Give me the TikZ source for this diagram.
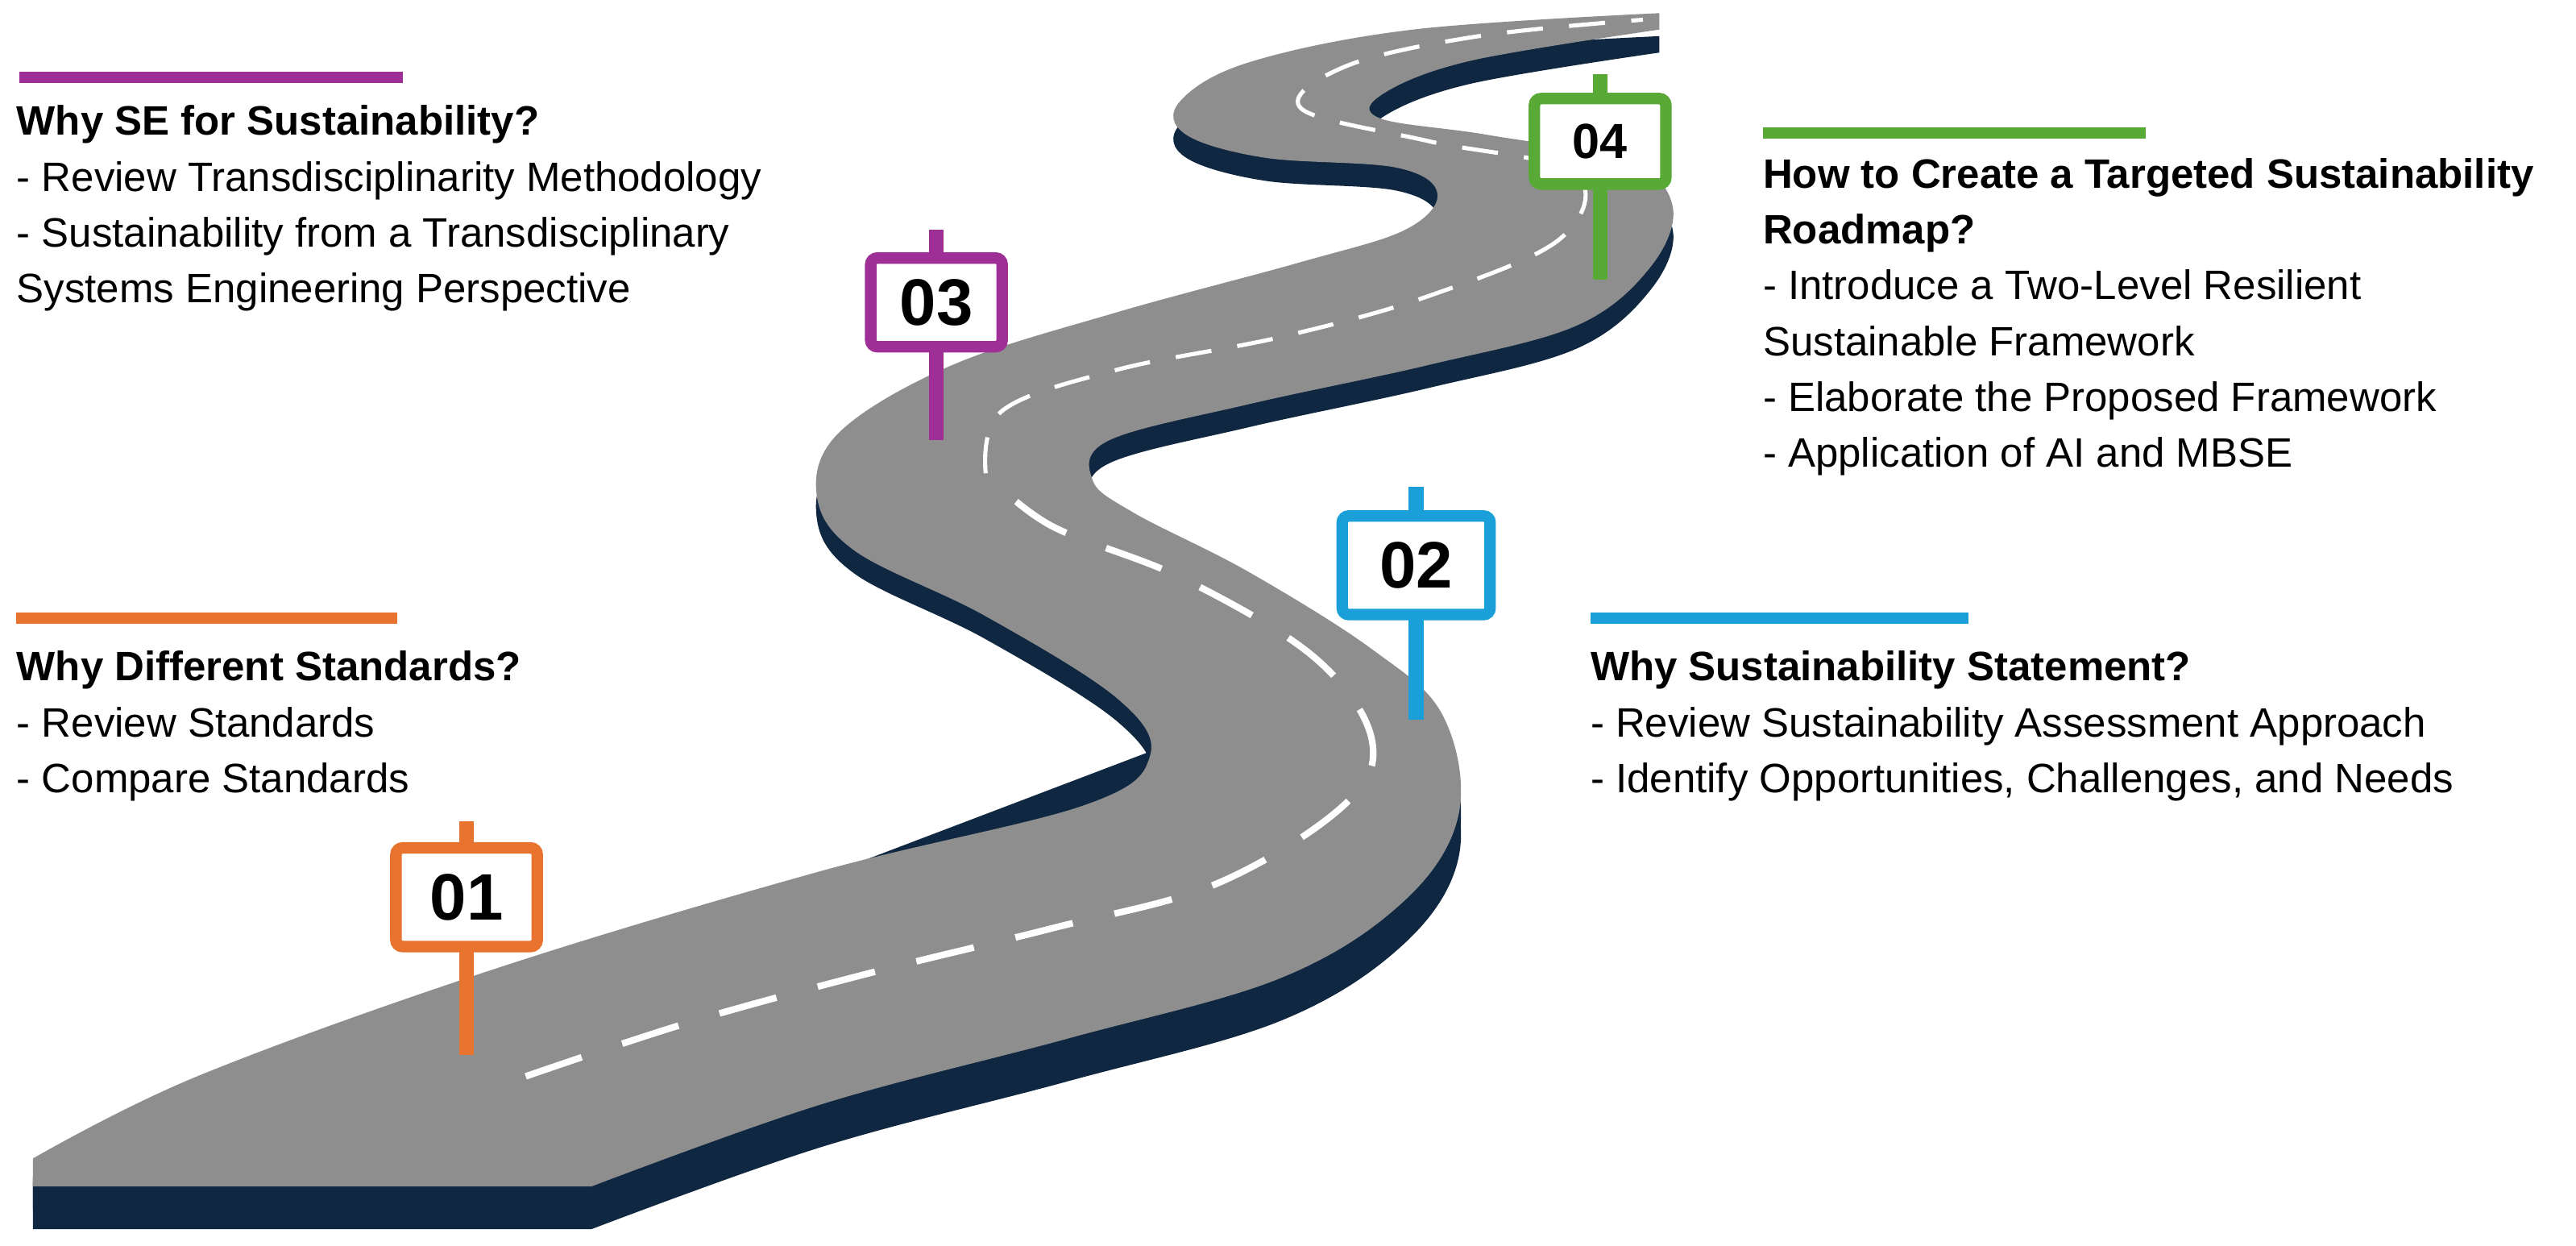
\documentclass[tikz,border=0pt]{standalone}
\usepackage{fontspec}
\setmainfont{Liberation Sans}
\begin{document}
\begin{tikzpicture}[x=1pt,y=-1pt,
  txt/.style={anchor=north west,align=left,inner sep=0pt,font=\fontsize{25}{34}\selectfont},
  bar/.style={line width=7pt},
  board/.style={draw=#1,line width=7pt,fill=white,rounded corners=4pt,minimum width=86pt,minimum height=60pt,font=\fontsize{40}{40}\selectfont\bfseries,inner sep=0pt},
  post/.style={line width=9pt,#1}]
\definecolor{cor}{HTML}{E8732E}
\definecolor{cbl}{HTML}{1A9FD8}
\definecolor{cpu}{HTML}{9E2F96}
\definecolor{cgr}{HTML}{58A935}
\definecolor{road}{HTML}{8E8E8E}
\definecolor{side}{HTML}{0F2740}
\useasboundingbox (0,0) rectangle (1568,758);
\def\roadpath{plot[smooth,tension=0.6] coordinates{(1010,8) (860,18) (760,38) (718,62) (722,82) (770,96) (850,102) (875,118) (855,140) (790,160) (680,190) (580,222) (512,262) (497,300) (520,335) (600,375) (680,425) (700,460) (660,490) (500,530) (300,590) (120,655) (20,705)} -- (20,722) -- plot[smooth,tension=0.6] coordinates{(360,722)(500,672)(650,632)(780,595)(855,548)(888,495)(878,435)(835,395)(760,348)(690,312)(665,292)(675,268)(760,246)(870,222)(960,198)(1005,162)(1018,125)(990,98)(905,82)(840,72)(842,57)(895,37)(1010,18)} -- cycle}
\begin{scope}[yshift=-14pt]
\fill[side] \roadpath;
\end{scope}
\begin{scope}[yshift=-26pt]
\fill[side] plot[smooth,tension=0.6] coordinates{(360,722)(500,672)(650,632)(780,595)(855,548)(888,495)(878,435)(835,395)} -- (835,380) -- (20,690) -- (20,722) -- cycle;
\end{scope}
\fill[side] (20,705) rectangle (40,748);
\fill[road] \roadpath;
% dashed centre line
\draw[white,line width=4pt,dash pattern=on 36pt off 26pt] plot[smooth,tension=0.6] coordinates{(320,655) (420,622) (530,592) (640,565) (740,538) (818,490) (835,450) (800,400) (720,352) (640,320) (600,288)};
\draw[white,line width=2.5pt,dash pattern=on 22pt off 16pt] plot[smooth,tension=0.6] coordinates{(600,288) (610,250) (680,225) (780,205) (870,180) (950,145) (958,105) (870,86) (792,66) (820,40) (900,22) (1000,12)};
% signs
\draw[post=cor] (284,500) -- (284,642);
\node[board=cor] (s1) at (284,546) {01};
\draw[post=cbl] (862,296) -- (862,438);
\node[board=cbl,minimum width=90pt] (s2) at (862,344) {02};
\draw[post=cpu] (570,140) -- (570,268);
\node[board=cpu,minimum width=80pt,minimum height=54pt] (s3) at (570,184) {03};
\draw[post=cgr] (974,45) -- (974,170);
\node[board=cgr,minimum width=80pt,minimum height=52pt,font=\fontsize{30}{32}\selectfont\bfseries] (s4) at (974,86) {04};
% text blocks
\draw[bar,cpu] (12,47) -- (245,47);
\node[txt] (t3) at (10,64) {\textbf{Why SE for Sustainability?}\\- Review Transdisciplinarity Methodology\\- Sustainability from a Transdisciplinary\\Systems Engineering Perspective};
\draw[bar,cor] (10,376) -- (242,376);
\node[txt] (t1) at (10,396) {\textbf{Why Different Standards?}\\- Review Standards\\- Compare Standards};
\draw[bar,cbl] (968,376) -- (1198,376);
\node[txt] (t2) at (968,396) {\textbf{Why Sustainability Statement?}\\- Review Sustainability Assessment Approach\\- Identify Opportunities, Challenges, and Needs};
\draw[bar,cgr] (1073,81) -- (1306,81);
\node[txt] (t4) at (1073,96) {\textbf{How to Create a Targeted Sustainability}\\\textbf{Roadmap?}\\- Introduce a Two-Level Resilient\\Sustainable Framework\\- Elaborate the Proposed Framework\\- Application of AI and MBSE};
\end{tikzpicture}
\end{document}
